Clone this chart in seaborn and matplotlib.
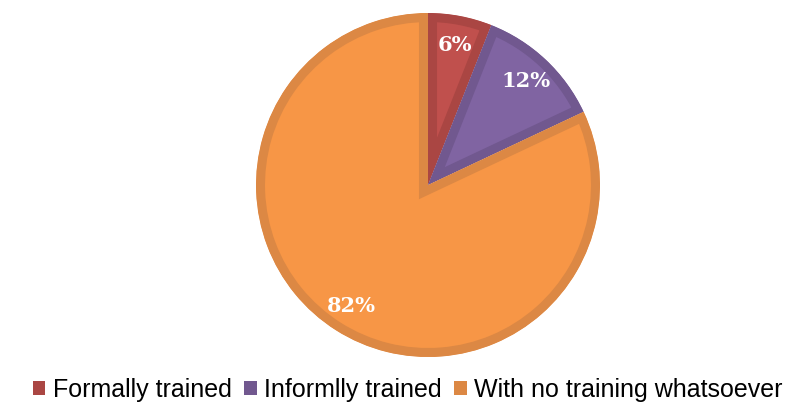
# ------------------------------------------
# Training status pie chart
# ------------------------------------------
import matplotlib
matplotlib.use("Agg")
import matplotlib.pyplot as plt
import seaborn as sns
from matplotlib.patches import Patch

# ------------------------------------------
# Data
# ------------------------------------------
categories = ["Formally trained", "Informlly trained", "With no training whatsoever"]
shares = [6, 12, 82]

fill_colors = ["#C0504D", "#8064A2", "#F79646"]
edge_colors = ["#AA4643", "#71588F", "#DC8844"]

sns.set_theme(style="white")
plt.rcParams["font.family"] = ["Liberation Sans", "DejaVu Sans"]
plt.rcParams["text.color"] = "black"

fig = plt.figure(figsize=(8.03, 4.07), dpi=100)
ax = fig.add_axes([(428 - 172) / 803, (407 - 357) / 407, 344 / 803, 344 / 407])

wedges, texts, autotexts = ax.pie(
    shares,
    colors=fill_colors,
    startangle=90,
    counterclock=False,
    autopct="%d%%",
    pctdistance=0.83,
    radius=1,
)

# inner border: thick stroke clipped to the wedge itself
for w, ec in zip(wedges, edge_colors):
    w.set_edgecolor(ec)
    w.set_linewidth(13)
    w.set_clip_path(w)
    w.set_clip_on(True)

for t in autotexts:
    t.set_color("white")
    t.set_fontfamily(["DejaVu Serif"])
    t.set_fontweight("bold")
    t.set_fontsize(15)

ax.set_xlim(-1, 1)
ax.set_ylim(-1, 1)
ax.set_aspect("equal")

# ------------------------------------------
# Legend
# ------------------------------------------
handles = [Patch(facecolor=c, edgecolor="none") for c in edge_colors]
leg = fig.legend(
    handles,
    categories,
    loc="center",
    bbox_to_anchor=(0.508, 1 - 390 / 407),
    ncol=3,
    frameon=False,
    fontsize=18,
    handlelength=0.5,
    handleheight=0.5,
    handletextpad=0.3,
    columnspacing=0.5,
)
for t in leg.get_texts():
    t.set_color("black")

fig.savefig("out.png", dpi=100)
